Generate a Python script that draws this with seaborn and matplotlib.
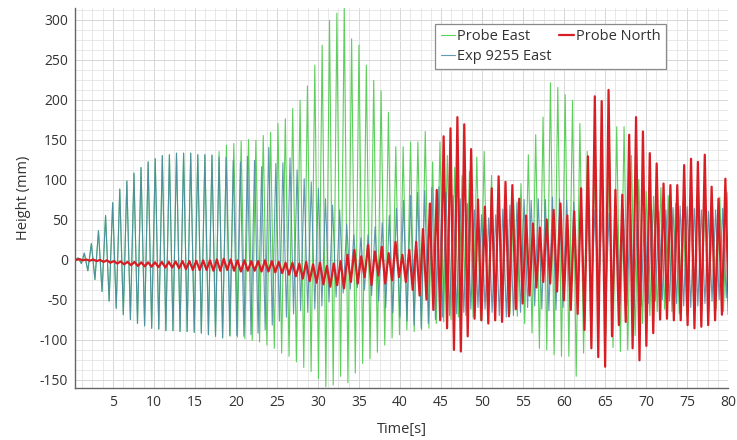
import numpy as np
import pandas as pd
import matplotlib
matplotlib.use("Agg")
import matplotlib.pyplot as plt
import seaborn as sns
from matplotlib.ticker import MultipleLocator

sns.set_theme(style="white")
plt.rcParams['font.family'] = ['Open Sans', 'DejaVu Sans']
plt.rcParams['axes.unicode_minus'] = False

# ---------------- data ----------------
# Exp 9255 East: one peak and one trough per wave cycle
blue_t0, blue_period = 1.5, 0.865
blue_lead_t = [0.4, 0.75, 1.15]
blue_lead_v = [0.0, 2.0, -5.0]
blue_peaks = [8, 20, 36, 55, 71, 88, 98, 108, 115, 122,
              126, 130, 131, 133, 133, 133, 131, 131, 130, 128,
              128, 124, 122, 129, 124, 116, 140, 120, 121, 127,
              112, 101, 97, 89, 76, 68, 62, 44, 31, 27,
              31, 41, 46, 55, 64, 74, 80, 84, 86, 90,
              91, 84, 80, 76, 70, 62, 56, 52, 56, 63,
              68, 72, 75, 74, 76, 75, 78, 76, 74, 72,
              70, 66, 62, 60, 58, 60, 63, 65, 66, 64,
              62, 60, 62, 65, 67, 66, 64, 62, 60, 62,
              64, 62]
blue_troughs = [-14, -25, -40, -52, -61, -69, -75, -80, -83, -86,
                -87, -89, -89, -90, -90, -91, -92, -94, -96, -98,
                -95, -95, -96, -94, -92, -88, -82, -77, -72, -68,
                -64, -66, -62, -58, -53, -47, -42, -37, -35, -38,
                -45, -52, -60, -67, -72, -77, -82, -86, -80, -75,
                -72, -70, -68, -66, -62, -60, -62, -66, -70, -72,
                -70, -66, -60, -58, -62, -64, -63, -60, -58, -55,
                -52, -50, -48, -50, -53, -56, -58, -60, -58, -55,
                -52, -50, -52, -55, -58, -60, -58, -55, -52, -50,
                -48, -45]

# Probe East: follows the experiment for the first 20 cycles, then its own period
green_shared_cycles, green_period = 20, 0.898
green_peaks = [8, 20, 36, 55, 71, 88, 98, 108, 115, 122,
               126, 130, 131, 133, 133, 133, 131, 131, 131, 135,
               143, 145, 148, 150, 149, 155, 159, 170, 176, 189,
               199, 217, 243, 268, 299, 308, 315, 276, 268, 243,
               224, 211, 184, 141, 141, 147, 147, 160, 122, 147,
               130, 115, 105, 110, 128, 135, 105, 85, 70, 75,
               95, 131, 156, 178, 221, 215, 206, 199, 170, 135,
               110, 120, 150, 166, 166, 130, 100, 85, 79, 90,
               80, 70, 72, 75, 85, 80, 70, 78, 84, 80]
green_troughs = [-14, -25, -40, -52, -61, -69, -75, -80, -83, -86,
                 -87, -89, -89, -90, -90, -91, -92, -94, -96, -98,
                 -96, -97, -99, -101, -103, -107, -111, -117, -121, -128,
                 -135, -140, -149, -159, -157, -146, -154, -142, -130, -124,
                 -116, -107, -98, -94, -88, -90, -88, -86, -80, -78,
                 -75, -72, -70, -72, -76, -78, -74, -70, -68, -71,
                 -80, -92, -111, -113, -119, -121, -121, -146, -117, -100,
                 -90, -95, -110, -115, -113, -95, -80, -70, -65, -62,
                 -65, -68, -70, -72, -70, -66, -62, -65, -68, -66]

# Probe North
red_t0, red_period = 0.07, 0.838
red_peaks = [0.5, 0.5, 0, 0, -0.5, -1, -2, -2.5, -3, -3,
             -3.5, -3.5, -3.5, -3, -3, -2.5, -2, -2, -1.5, -1,
             -1, 0, 1, 0, -1, -1, -2, -2, -1, -2,
             -3, -4, -4, -5, -3, -6, -4, -8, -5, -2,
             6, 12, 4, 18, 10, 16, 8, 22, 6, 12,
             22, 38, 70, 87, 154, 164, 178, 169, 138, 75,
             66, 89, 104, 97, 93, 76, 55, 45, 40, 50,
             62, 70, 55, 60, 89, 129, 204, 198, 212, 87,
             81, 156, 178, 160, 133, 120, 95, 93, 93, 118,
             126, 122, 131, 91, 76, 101]
red_troughs = [-0.5, -1, -1.5, -2, -3, -4, -5, -6, -7, -8,
               -8.5, -9, -9.5, -10, -10, -11, -12, -13, -13, -13,
               -14, -14, -13, -14, -15, -14, -14, -15, -15, -16,
               -17, -19, -21, -24, -27, -29, -31, -34, -32, -36,
               -28, -30, -22, -32, -20, -30, -26, -22, -28, -38,
               -45, -50, -63, -76, -86, -113, -115, -96, -74, -76,
               -80, -76, -78, -71, -62, -55, -45, -35, -28, -30,
               -40, -51, -63, -68, -88, -111, -122, -134, -96, -82,
               -78, -111, -126, -108, -92, -75, -74, -76, -76, -82,
               -86, -84, -82, -76, -69, -69]

series_names = ["Probe East", "Exp 9255 East", "Probe North"]
x_ticks = list(range(5, 81, 5))
y_ticks = list(range(-150, 301, 50))


# ---------------- build the time series ----------------
def interleave(peak_t, half, peaks, troughs, lead_t=(), lead_v=()):
    peak_t = np.asarray(peak_t, float)
    half = np.broadcast_to(np.asarray(half, float), peak_t.shape)
    t = np.empty(2 * len(peaks))
    v = np.empty(2 * len(peaks))
    t[0::2] = peak_t
    t[1::2] = peak_t + half
    v[0::2] = peaks
    v[1::2] = troughs
    return np.concatenate([lead_t, t]), np.concatenate([lead_v, v])


blue_pt = blue_t0 + blue_period * np.arange(len(blue_peaks))
bt, bv = interleave(blue_pt, blue_period / 2, blue_peaks, blue_troughs,
                    blue_lead_t, blue_lead_v)

n_g = len(green_peaks)
green_pt = np.concatenate([
    blue_pt[:green_shared_cycles],
    blue_pt[green_shared_cycles - 1]
    + green_period * np.arange(1, n_g - green_shared_cycles + 1)])
green_half = np.where(np.arange(n_g) < green_shared_cycles,
                      blue_period / 2, green_period / 2)
gt, gv = interleave(green_pt, green_half, green_peaks, green_troughs,
                    blue_lead_t, blue_lead_v)

red_pt = red_t0 + red_period * np.arange(len(red_peaks))
rt, rv = interleave(red_pt, red_period / 2, red_peaks, red_troughs)

df = pd.concat([
    pd.DataFrame({"t": gt, "v": gv, "series": series_names[0]}),
    pd.DataFrame({"t": bt, "v": bv, "series": series_names[1]}),
    pd.DataFrame({"t": rt, "v": rv, "series": series_names[2]}),
], ignore_index=True)

# ---------------- draw ----------------
fig = plt.figure(figsize=(7.37, 4.40), dpi=100)
ax = fig.add_axes([0.1018, 0.1182, 0.8860, 0.8636])

styles = {
    "Probe East": dict(color="#5ccf5c", lw=0.8, alpha=1.0),
    "Exp 9255 East": dict(color="#4a86a8", lw=0.8, alpha=0.85),
    "Probe North": dict(color="#d81e24", lw=1.6, alpha=1.0),
}
for name in series_names:
    sub = df[df["series"] == name]
    sns.lineplot(data=sub, x="t", y="v", ax=ax, estimator=None, sort=False,
                 label=name, **styles[name])

ax.set_xlim(0.37, 80)
ax.set_ylim(-160.6, 314.4)
ax.set_xticks(x_ticks)
ax.set_yticks(y_ticks)
ax.xaxis.set_minor_locator(MultipleLocator(1.25))
ax.yaxis.set_minor_locator(MultipleLocator(12.5))
ax.set_axisbelow(True)
ax.grid(which="major", color="#d6d6d6", lw=0.7)
ax.grid(which="minor", color="#e4e4e4", lw=0.6)

for s in ["top", "right"]:
    ax.spines[s].set_visible(False)
for s in ["left", "bottom"]:
    ax.spines[s].set_color("#666666")
    ax.spines[s].set_linewidth(1.0)

ax.tick_params(which="major", direction="out", length=3, width=0.8,
               color="#666666", labelsize=10, labelcolor="#333333", pad=2)
ax.tick_params(which="minor", direction="out", length=2.5, width=0.7,
               color="#666666")

ax.set_xlabel("Time[s]", fontsize=10.5, color="#333333", labelpad=9)
ax.set_ylabel("Height (mm)", fontsize=10.5, color="#333333", labelpad=6)

leg = ax.legend(loc="upper left", bbox_to_anchor=(0.552, 0.957), ncol=2,
                fontsize=10.5, handlelength=1.0, handletextpad=0.15,
                columnspacing=0.5, labelspacing=0.3, borderpad=0.35,
                borderaxespad=0, frameon=True, fancybox=False,
                edgecolor="#8a8a8a", framealpha=1.0)
leg.get_frame().set_linewidth(0.9)
for txt in leg.get_texts():
    txt.set_color("#333333")

fig.savefig("out.png", dpi=100)
